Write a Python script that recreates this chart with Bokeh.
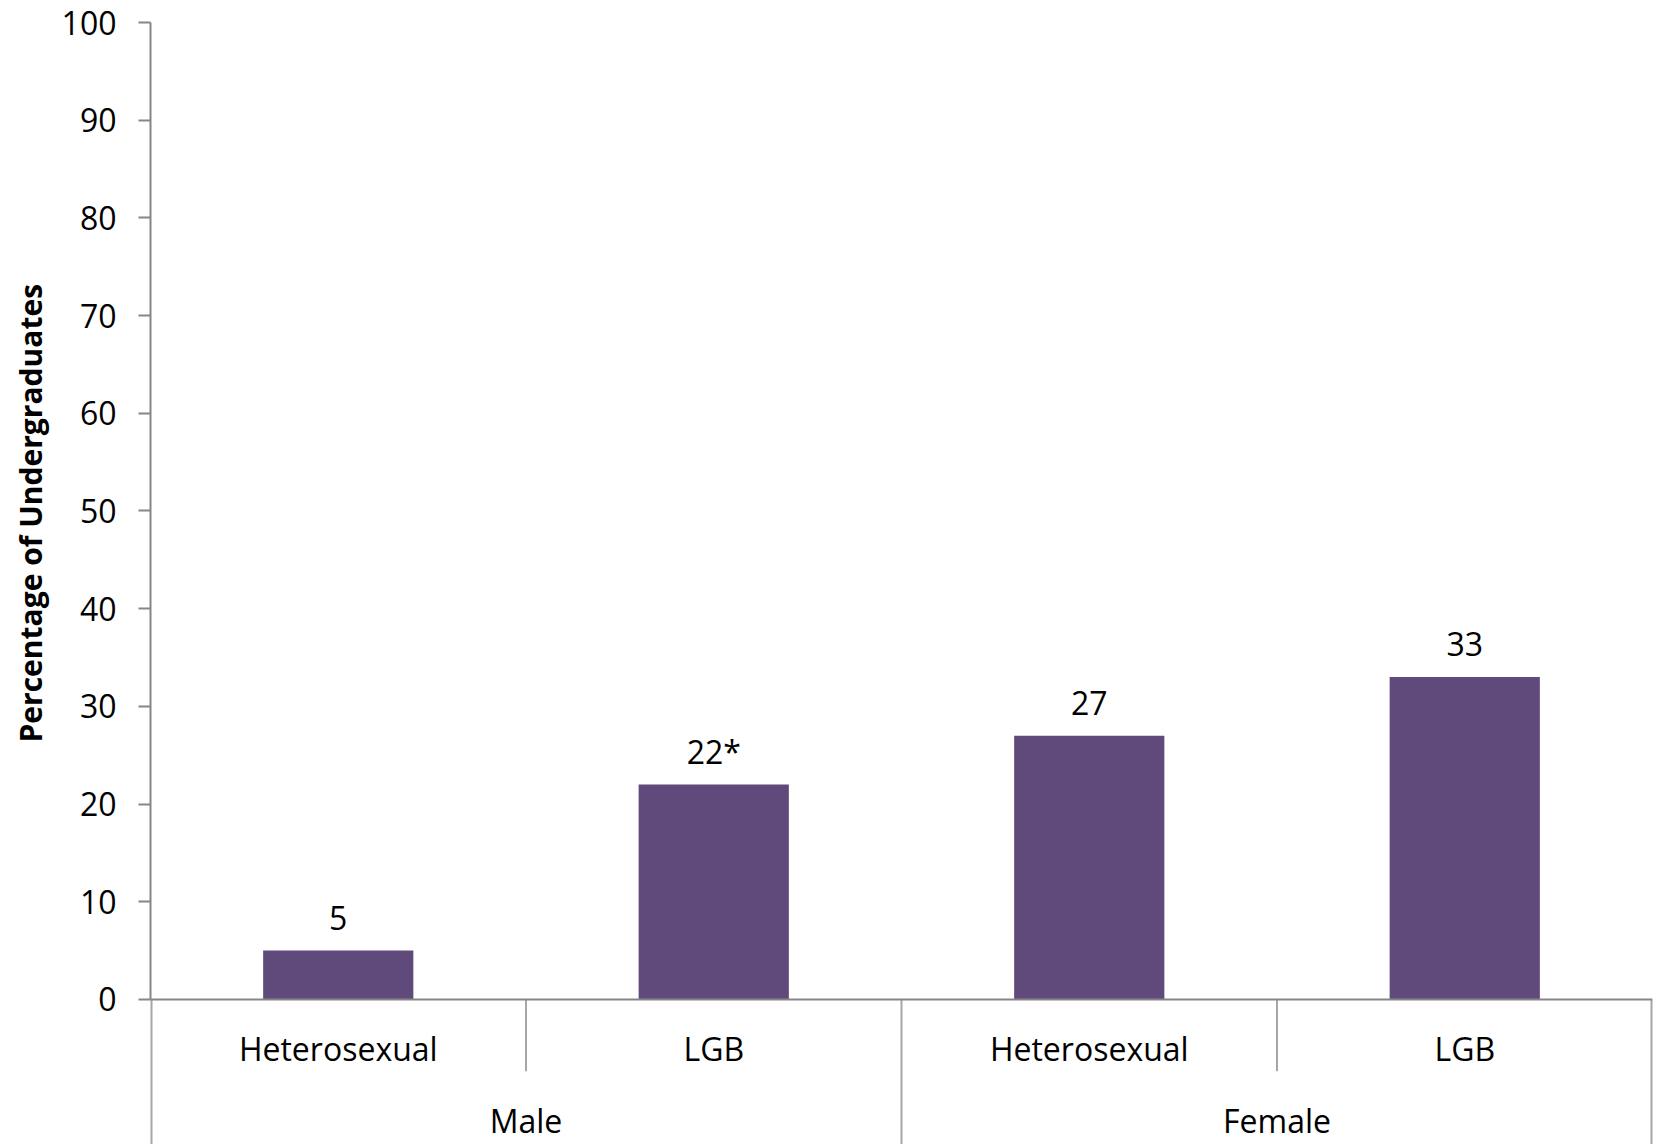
from bokeh.plotting import figure
from bokeh.models import FactorRange, Range1d, FixedTicker, Span, ColumnDataSource, LinearAxis, Title
from bokeh.core.properties import value
from bokeh.embed import file_html
from bokeh.resources import INLINE

# ---- data ----
groups = ["Male", "Female"]
subgroups = ["Heterosexual", "LGB"]
values = [5, 22, 27, 33]
value_labels = ["5", "22*", "27", "33"]
y_ticks = [0, 10, 20, 30, 40, 50, 60, 70, 80, 90, 100]
y_title = "Percentage of Undergraduates"

factors = [(g, s) for g in groups for s in subgroups]

FONT = "Open Sans"
BAR = "#604A7B"
AXIS = "#868686"
SEP = "#A6A6A6"

x_range = FactorRange(*factors, group_padding=0, factor_padding=0, range_padding=0)
p = figure(x_range=x_range, y_range=Range1d(-14.85, 100),
           width=1654, height=1144, output_backend="svg", toolbar_location=None,
           x_axis_location=None, y_axis_location=None)
p.min_border_left = 150
p.min_border_right = 2
p.min_border_top = 22
p.min_border_bottom = 0
p.outline_line_color = None
p.xgrid.visible = False
p.ygrid.visible = False
p.background_fill_color = "white"
p.border_fill_color = "white"

yax = LinearAxis(ticker=FixedTicker(ticks=y_ticks), bounds=(y_ticks[0], y_ticks[-1]))
yax.major_label_text_font = FONT
yax.major_label_text_font_size = "32px"
yax.major_label_text_color = "black"
yax.major_label_standoff = 22
yax.major_tick_out = 12
yax.major_tick_in = 0
yax.minor_tick_out = 0
yax.minor_tick_in = 0
yax.axis_line_color = AXIS
yax.axis_line_width = 2
yax.major_tick_line_color = AXIS
yax.major_tick_line_width = 2
p.add_layout(yax, "left")

# y-axis title as a left-side title, shifted so it is centred on the 0-100 span
p.add_layout(Title(text=y_title, align="left", offset=402, standoff=14,
                   vertical_align="middle",
                   text_font=FONT, text_font_style="bold", text_font_size="30px",
                   text_color="black"), "left")

src = ColumnDataSource(dict(x=factors, top=values, label=value_labels))
p.vbar(x="x", top="top", bottom=0, width=0.4, source=src,
       fill_color=BAR, line_color=None)

# data labels
p.text(x="x", y="top", text="label", source=src, y_offset=-33,
       text_align="center", text_baseline="middle",
       text_font=value(FONT), text_font_size="32px", text_color="black")

# baseline at y=0
p.add_layout(Span(location=0, dimension="width", line_color=AXIS, line_width=2))

# separators below the axis
y_bottom = p.y_range.start
short_x = []
long_x = [(factors[0][0], factors[0][1], -0.5)]
for i in range(1, len(factors)):
    pos = (factors[i][0], factors[i][1], -0.5)
    if factors[i][0] != factors[i - 1][0]:
        long_x.append(pos)
    else:
        short_x.append(pos)
long_x.append((factors[-1][0], factors[-1][1], 0.5))
p.segment(x0=short_x, x1=short_x, y0=[0] * len(short_x), y1=[-7.35] * len(short_x),
          line_color=SEP, line_width=2)
p.segment(x0=long_x, x1=long_x, y0=[0] * len(long_x), y1=[y_bottom] * len(long_x),
          line_color=SEP, line_width=[4, 2, 4])

# category labels
p.text(x=factors, y=[-5.0] * len(factors), text=[f[1] for f in factors],
       text_align="center", text_baseline="middle",
       text_font=value(FONT), text_font_size="32px", text_color="black")
p.text(x=groups, y=[-12.4] * len(groups), text=groups,
       text_align="center", text_baseline="middle",
       text_font=value(FONT), text_font_size="32px", text_color="black")

open("out.html", "w").write(file_html(p, INLINE))
